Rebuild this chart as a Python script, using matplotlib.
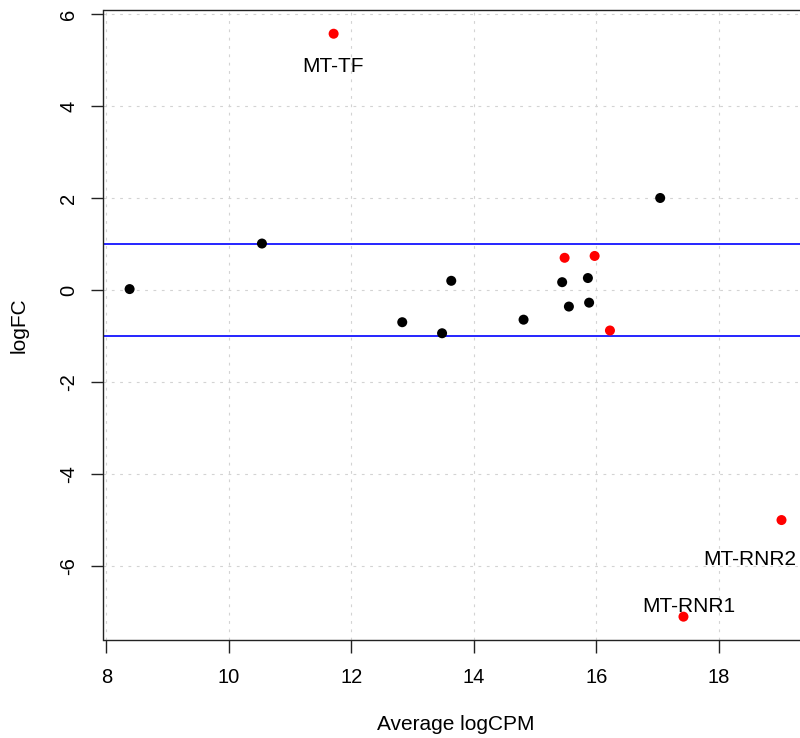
import matplotlib
matplotlib.use("Agg")
import matplotlib.pyplot as plt
import numpy as np

plt.rcParams['font.family'] = ['Liberation Sans', 'DejaVu Sans']

# Data
avg_logcpm = [8.38, 10.54, 11.71, 12.83, 13.48, 13.63, 14.81, 15.44, 15.48,
              15.55, 15.86, 15.97, 15.88, 16.22, 17.04, 19.02, 17.42]
logfc = [0.02, 1.01, 5.57, -0.70, -0.94, 0.20, -0.645, 0.17, 0.70,
         -0.36, 0.26, 0.74, -0.275, -0.88, 2.00, -5.00, -7.10]
significant = [False, False, True, False, False, False, False, False, True,
               False, False, True, False, True, False, True, True]

label_genes = ["MT-TF", "MT-RNR2", "MT-RNR1"]
label_x = [11.71, 19.02, 17.42]
label_y = [5.57, -5.00, -7.10]
label_offsets = [(-0.5, -27.4), (-22.8, -32.4), (3.6, 3.4)]  # points

thresholds = [1, -1]
xticks = [8, 10, 12, 14, 16, 18]
yticks = [-6, -4, -2, 0, 2, 4, 6]

W, H = 800, 738
fig = plt.figure(figsize=(W / 100, H / 100), dpi=100)
left, right = 103.5, 807.6
top, bottom = 10.4, 640.0
ax = fig.add_axes([left / W, 1 - bottom / H, (right - left) / W, (bottom - top) / H])

x = np.array(avg_logcpm)
y = np.array(logfc)
sig = np.array(significant)

ax.set_xlim(7.954, 19.446)
ax.set_ylim(-7.607, 6.077)

ax.set_xticks(xticks)
ax.set_yticks(yticks)
ax.set_xticklabels([str(t) for t in xticks])
ax.set_yticklabels([str(t) for t in yticks])

ax.grid(True, color='#D3D3D3', linestyle=(0, (2.5, 5)), linewidth=0.8, zorder=0)
ax.set_axisbelow(True)

for t in thresholds:
    ax.axhline(t, color='#0000FF', linewidth=1.2, zorder=2)

colors = np.where(sig, '#FF0000', '#000000')
ax.scatter(x, y, c=colors, s=52, edgecolors='none', zorder=3)

for g, lx, ly, off in zip(label_genes, label_x, label_y, label_offsets):
    ax.annotate(g, (lx, ly), xytext=off, textcoords='offset points',
                ha='center', va='baseline', fontsize=15, color='#000000', zorder=4)

for s in ax.spines.values():
    s.set_linewidth(1.0)
    s.set_color('#222222')

ax.tick_params(axis='both', length=9, width=1.0, color='#222222', labelsize=14.5)
ax.tick_params(axis='x', pad=11)
ax.tick_params(axis='y', pad=9)
for lab in ax.get_yticklabels():
    lab.set_rotation(90)
    lab.set_va('center')
    lab.set_ha('right')

ax.set_xlabel("Average logCPM", fontsize=15)
ax.set_ylabel("logFC", fontsize=15)
ax.xaxis.set_label_coords(0.5, -(730 - 640) / (bottom - top), transform=ax.transAxes)
ax.xaxis.label.set_va('baseline')
ax.yaxis.set_label_coords(-(103.5 - 25) / (right - left), 0.5, transform=ax.transAxes)
ax.yaxis.label.set_va('baseline')

fig.savefig("out.png", dpi=100)
